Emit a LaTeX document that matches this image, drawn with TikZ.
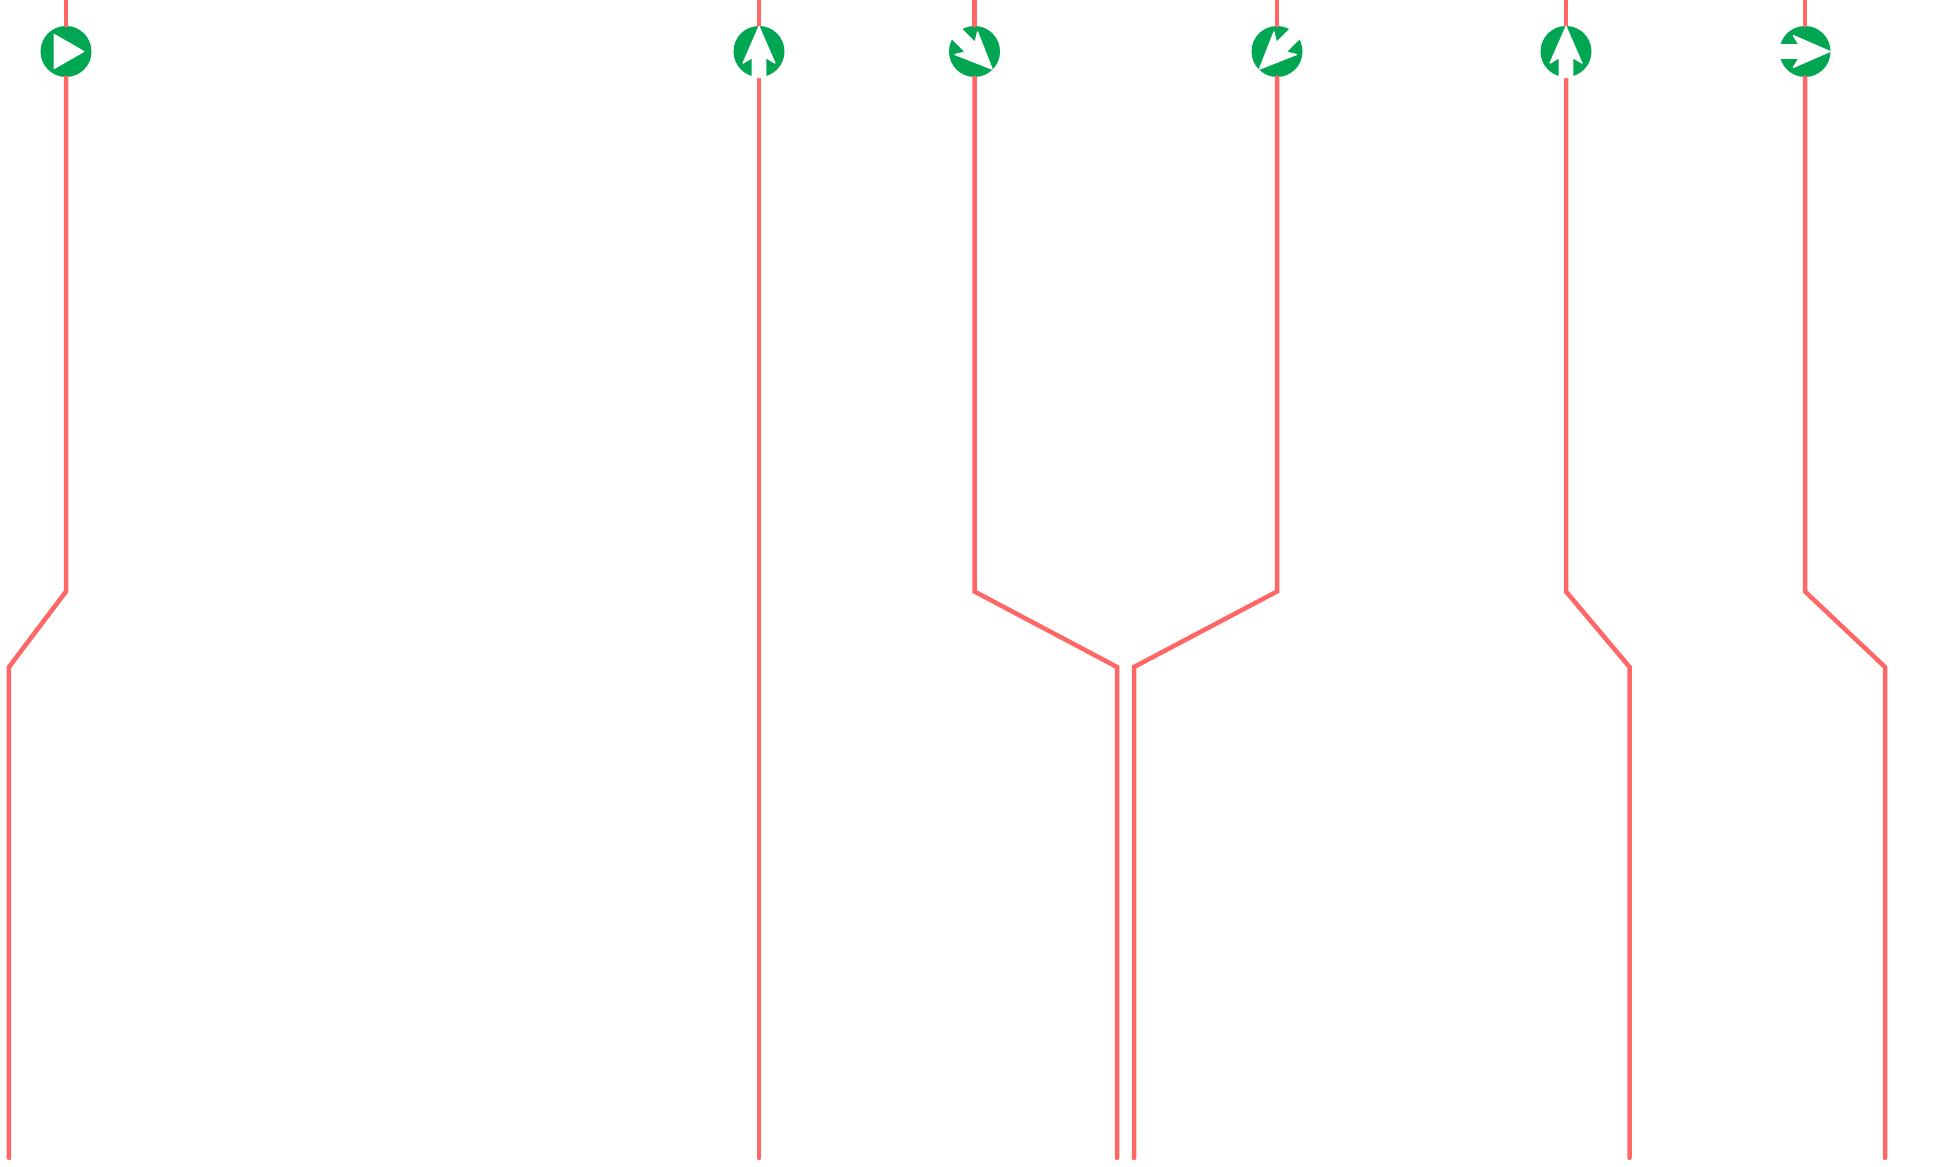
\documentclass[tikz,border=0pt]{standalone}
\usepackage{xcolor}
\usetikzlibrary{positioning,calc}
\definecolor{wirered}{HTML}{FF6666}
\definecolor{signalgreen}{HTML}{00A651}
\tikzset{
  wire/.style={draw=wirered,line width=0.045cm,line cap=round},
  signal/.style={circle,fill=signalgreen,inner sep=0pt,minimum size=0.51cm},
  arrowfill/.style={fill=white,draw=white,line width=0.012cm,line join=round},
  playmark/.pic={\path[arrowfill] (-0.118,0.17) -- (0.178,0) -- (-0.118,-0.17) -- cycle;},
  dirmark/.pic={\path[arrowfill] (0.25,0) -- (-0.117,0.16) -- (-0.06,0.068) -- (-0.26,0.068)
    -- (-0.26,-0.068) -- (-0.06,-0.068) -- (-0.117,-0.16) -- cycle;}
}
\begin{document}
\begin{tikzpicture}
    \useasboundingbox (0,0) rectangle (19.33,-11.67);
    % signals
    \node[signal] (s1) at (0.66,-0.515) {};
    \node[signal] (s2) at (7.59,-0.515) {};
    \node[signal] (s3) at (9.745,-0.515) {};
    \node[signal] (s4) at (12.77,-0.515) {};
    \node[signal] (s5) at (15.66,-0.515) {};
    \node[signal] (s6) at (18.05,-0.515) {};
    % lane 1
    \coordinate (t1) at (0.66,0); \coordinate (a1) at (0.66,-5.915);
    \coordinate (b1) at (0.09,-6.67); \coordinate (e1) at (0.09,-11.58);
    \draw[wire] (t1) -- (s1.north);
    \draw[wire] (s1.south) -- (a1) -- (b1) -- (e1);
    % lane 2
    \coordinate (t2) at (7.59,0); \coordinate (e2) at (7.59,-11.58);
    \draw[wire] (t2) -- (s2.north);
    \draw[wire] (s2.south) -- (e2);
    % lane 3
    \coordinate (t3) at (9.745,0); \coordinate (a3) at (9.745,-5.915);
    \coordinate (b3) at (11.17,-6.67); \coordinate (e3) at (11.17,-11.58);
    \draw[wire] (t3) -- (s3.north);
    \draw[wire] (s3.south) -- (a3) -- (b3) -- (e3);
    % lane 4
    \coordinate (t4) at (12.77,0); \coordinate (a4) at (12.77,-5.915);
    \coordinate (b4) at (11.34,-6.67); \coordinate (e4) at (11.34,-11.58);
    \draw[wire] (t4) -- (s4.north);
    \draw[wire] (s4.south) -- (a4) -- (b4) -- (e4);
    % lane 5
    \coordinate (t5) at (15.66,0); \coordinate (a5) at (15.66,-5.915);
    \coordinate (b5) at (16.295,-6.67); \coordinate (e5) at (16.295,-11.58);
    \draw[wire] (t5) -- (s5.north);
    \draw[wire] (s5.south) -- (a5) -- (b5) -- (e5);
    % lane 6
    \coordinate (t6) at (18.05,0); \coordinate (a6) at (18.05,-5.915);
    \coordinate (b6) at (18.85,-6.67); \coordinate (e6) at (18.85,-11.58);
    \draw[wire] (t6) -- (s6.north);
    \draw[wire] (s6.south) -- (a6) -- (b6) -- (e6);
    % arrows on the signals
    \pic at (s1) {playmark};
    \pic[rotate=90] at (s2) {dirmark};
    \pic[rotate=-45] at (s3) {dirmark};
    \pic[rotate=225] at (s4) {dirmark};
    \pic[rotate=90] at (s5) {dirmark};
    \pic at (s6) {dirmark};
\end{tikzpicture}
\end{document}
